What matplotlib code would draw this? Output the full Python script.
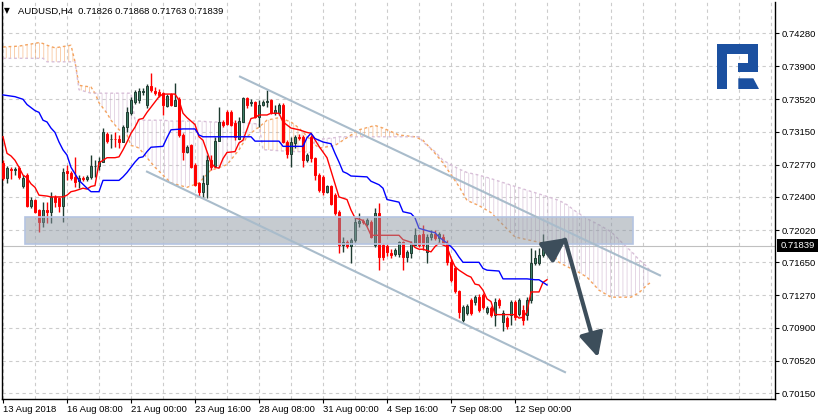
import numpy as np
import matplotlib
matplotlib.use("Agg")
import matplotlib.pyplot as plt
from matplotlib.patches import Rectangle, Polygon, FancyArrowPatch

# ---------------- data ----------------
title_text = "AUDUSD,H4  0.71826 0.71868 0.71763 0.71839"
last_price = 0.71839

opens = [.7279,.7262,.7272,.7271,.7273,.7253,.7265,.7230,.7237,.7225,.7211,.7225,.7223,.7240,.7239,.7230,.7270,.7267,.7263,.7258,
         .7262,.7260,.7263,.7275,.7275,.7280,.7312,.7306,.7307,.7306,.7303,.7320,.7336,.7349,.7351,.7360,.7346,.7367,.7361,.7360,
         .7359,.7344,.7358,.7344,.7352,.7311,.7292,.7300,.7277,.7256,.7246,.7255,.7282,.7275,.7304,.7326,.7337,.7337,.7325,.7307,
         .7326,.7353,.7348,.7349,.7332,.7346,.7349,.7351,.7336,.7336,.7345,.7303,.7289,.7302,.7309,.7309,.7282,.7309,.7285,.7265,
         .7263,.7246,.7252,.7242,.7223,.7185,.7188,.7184,.7191,.7210,.7212,.7209,.7211,.7185,.7221,.7185,.7184,.7176,.7174,.7174,
         .7188,.7171,.7176,.7185,.7196,.7198,.7177,.7194,.7197,.7193,.7194,.7187,.7165,.7158,.7132,.7099,.7107,.7122,.7119,.7125,
         .7127,.7108,.7113,.7105,.7122,.7097,.7101,.7105,.7120,.7106,.7110,.7104,.7122,.7164,.7164,.7173,.71826]
highs = [.7282,.7276,.7274,.7274,.7276,.7265,.7267,.7240,.7238,.7226,.7234,.7234,.7246,.7242,.7240,.7273,.7277,.7270,.7286,.7265,
         .7264,.7265,.7288,.7282,.7286,.7319,.7314,.7312,.7314,.7311,.7323,.7343,.7355,.7363,.7365,.7365,.7370,.7382,.7366,.7364,
         .7360,.7358,.7359,.7371,.7355,.7313,.7300,.7301,.7279,.7257,.7265,.7288,.7288,.7309,.7343,.7328,.7340,.7340,.7328,.7332,
         .7355,.7355,.7352,.7350,.7351,.7351,.7363,.7352,.7345,.7348,.7348,.7305,.7309,.7311,.7312,.7311,.7290,.7311,.7286,.7267,
         .7265,.7254,.7254,.7245,.7225,.7194,.7191,.7193,.7217,.7222,.7215,.7216,.7213,.7227,.7233,.7187,.7186,.7180,.7181,.7190,
         .7190,.7179,.7190,.7204,.7198,.7208,.7198,.7202,.7202,.7200,.7198,.7191,.7169,.7161,.7133,.7116,.7117,.7124,.7127,.7129,
         .7130,.7115,.7115,.7124,.7124,.7110,.7103,.7122,.7122,.7124,.7116,.7125,.7181,.7179,.7181,.7198,.71868]
lows = [.7259,.7256,.7261,.7265,.7261,.7250,.7228,.7227,.7222,.7200,.7205,.7210,.7210,.7228,.7223,.7211,.7259,.7259,.7251,.7250,
        .7258,.7258,.7260,.7263,.7271,.7280,.7302,.7296,.7297,.7296,.7303,.7314,.7334,.7347,.7348,.7357,.7342,.7360,.7357,.7355,
        .7334,.7343,.7344,.7344,.7309,.7282,.7290,.7273,.7252,.7240,.7240,.7239,.7271,.7274,.7304,.7320,.7323,.7321,.7305,.7307,
        .7326,.7342,.7344,.7331,.7320,.7344,.7343,.7335,.7334,.7334,.7302,.7285,.7274,.7296,.7305,.7274,.7280,.7280,.7259,.7246,
        .7242,.7245,.7231,.7219,.7176,.7177,.7181,.7164,.7188,.7205,.7209,.7207,.7193,.7182,.7156,.7168,.7172,.7170,.7172,.7171,
        .7156,.7165,.7170,.7185,.7183,.7179,.7164,.7191,.7191,.7188,.7185,.7162,.7142,.7130,.7101,.7097,.7105,.7105,.7116,.7108,
        .7111,.7106,.7102,.7092,.7113,.7086,.7089,.7093,.7099,.7103,.7093,.7099,.7118,.7162,.7162,.7171,.71763]
closes = [.7262,.7273,.7271,.7272,.7263,.7262,.7230,.7237,.7223,.7211,.7225,.7223,.7240,.7234,.7230,.7269,.7267,.7262,.7257,.7262,
          .7260,.7263,.7275,.7275,.7281,.7314,.7304,.7307,.7306,.7303,.7320,.7337,.7351,.7360,.7361,.7361,.7367,.7363,.7359,.7357,
          .7346,.7356,.7346,.7351,.7311,.7292,.7297,.7274,.7254,.7246,.7256,.7282,.7274,.7304,.7326,.7323,.7324,.7323,.7309,.7327,
          .7353,.7346,.7349,.7332,.7346,.7349,.7350,.7336,.7340,.7345,.7303,.7289,.7303,.7309,.7308,.7282,.7288,.7285,.7265,.7248,
          .7246,.7252,.7232,.7221,.7185,.7188,.7184,.7191,.7211,.7212,.7211,.7213,.7194,.7221,.7171,.7171,.7177,.7173,.7179,.7188,
          .7171,.7177,.7187,.7196,.7185,.7185,.7194,.7197,.7193,.7197,.7187,.7165,.7145,.7132,.7108,.7114,.7115,.7107,.7125,.7110,
          .7114,.7113,.7105,.7120,.7116,.7107,.7092,.7120,.7102,.7122,.7099,.7122,.7164,.7170,.7173,.7182,.71839]

tenkan_idx = [0,1,2,3,4,5,6,7,8,9,11,12,15,16,17,18,20,21,22,23,24,26,28,29,30,31,32,33,34,35,36,37,39,40,43,44,45,46,48,49,
              50,52,53,54,55,56,58,59,60,62,63,64,66,67,69,70,72,74,76,77,79,81,82,83,84,86,87,88,90,91,92,99,100,102,103,104,
              105,107,108,109,110,111,112,113,114,116,117,118,119,120,121,122,123,128,129,130,131,132,134,135,136]
tenkan_val = [.7309,.7290,.7287,.7282,.7274,.7265,.7262,.7255,.7251,.7242,.7241,.7240,.7240,.7242,.7246,.7247,.7250,.7249,.7252,.7253,
              .7279,.7285,.7285,.7286,.7294,.7303,.7313,.7320,.7329,.7330,.7337,.7343,.7355,.7358,.7358,.7351,.7336,.7331,.7323,.7309,
              .7305,.7279,.7274,.7273,.7284,.7291,.7292,.7302,.7305,.7330,.7331,.7334,.7334,.7336,.7336,.7326,.7319,.7317,.7314,.7313,
              .7298,.7285,.7270,.7255,.7240,.7237,.7225,.7216,.7213,.7206,.7196,.7196,.7191,.7188,.7182,.7180,
              .7180,.7177,.7183,.7187,.7185,.7183,.7170,.7160,.7156,.7150,.7148,.7140,.7139,.7133,.7123,.7120,.7105,.7105,.7101,.7102,
              .7108,.7131,.7131,.7142,.7145]

kijun_idx = [0,3,5,6,8,9,10,11,12,13,14,15,16,17,19,21,22,24,25,29,30,31,32,33,34,35,36,37,40,41,42,45,48,49,50,62,63,69,70,75,
             76,77,78,80,82,83,84,85,86,87,91,92,94,95,96,99,100,102,103,104,107,108,109,111,112,113,114,115,119,120,121,124,125,
             131,133,134,135,136]
kijun_val = [.7357,.7355,.7352,.7346,.7339,.7337,.7328,.7326,.7319,.7314,.7303,.7294,.7288,.7274,.7259,.7250,.7246,.7246,.7259,.7259,
             .7263,.7268,.7274,.7280,.7285,.7286,.7292,.7297,.7298,.7308,.7317,.7318,.7318,.7311,.7309,.7309,.7304,.7304,.7298,.7298,
             .7308,.7313,.7307,.7303,.7301,.7290,.7280,.7269,.7267,.7264,.7263,.7258,.7254,.7250,.7237,.7234,.7223,.7221,.7216,.7204,
             .7200,.7199,.7194,.7187,.7183,.7178,.7171,.7165,.7165,.7158,.7156,.7155,.7146,.7146,.7145,.7145,.7142,.7139]

cloud_idx = [0,4,9,10,11,13,17,18,19,22,23,24,26,27,29,31,32,33,34,36,38,40,42,46,49,52,53,56,59,61,63,64,65,66,69,72,74,77,78,79,
             83,84,85,89,93,95,99,103,104,105,108,110,114,116,119,122,128,135,139,141,143,146,149,152,156,157,159,161,162]
span_a = [.7412,.7413,.7417,.7416,.7414,.7411,.7414,.7395,.7368,.7366,.7359,.7348,.7336,.7328,.7317,.7311,.7299,.7298,.7296,.7285,
          .7274,.7265,.7256,.7251,.7256,.7271,.7272,.7277,.7294,.7309,.7317,.7320,.7324,.7328,.7331,.7326,.7319,.7305,.7300,.7296,
          .7299,.7302,.7305,.7317,.7322,.7319,.7311,.7309,.7307,.7305,.7290,.7279,.7252,.7236,.7230,.7222,.7194,.7187,.7165,.7160,
          .7156,.7148,.7133,.7125,.7125,.7125,.7130,.7139,.7142]
span_b = [.7399,.7399,.7399,.7399,.7395,.7395,.7395,.7395,.7363,.7359,.7359,.7359,.7359,.7359,.7359,.7359,.7359,.7328,.7328,.7328,
          .7328,.7328,.7327,.7327,.7327,.7326,.7326,.7325,.7325,.7325,.7324,.7324,.7294,.7294,.7293,.7292,.7292,.7291,.7305,.7306,
          .7308,.7309,.7309,.7309,.7309,.7309,.7309,.7309,.7309,.7303,.7292,.7282,.7272,.7268,.7265,.7261,.7252,.7242,.7236,.7231,
          .7224,.7215,.7208,.7200,.7182,.7178,.7168,.7160,.7154]

box_idx = [5.5, 157.6]
box_price = [0.71856, 0.72174]
chan_upper_idx = [59.25, 164.25]
chan_upper_val = [0.7378, 0.7150]
chan_lower_idx = [36.0, 140.5]
chan_lower_val = [0.7269, 0.7039]
arrow1_idx = [136.75, 141.0]
arrow1_val = [0.7179, 0.7193]
arrow2_idx = [140.5, 148.75]
arrow2_val = [0.7191, 0.7056]

price_ticks = [0.74280, 0.73900, 0.73520, 0.73150, 0.72770, 0.72400, 0.72020, 0.71650, 0.71270, 0.70900, 0.70520, 0.70150]
time_tick_idx = [0, 16, 32, 48, 64, 80, 96, 112, 128]
time_tick_labels = ["13 Aug 2018", "16 Aug 08:00", "21 Aug 00:00", "23 Aug 16:00", "28 Aug 08:00",
                    "31 Aug 00:00", "4 Sep 16:00", "7 Sep 08:00", "12 Sep 00:00"]

# ---------------- figure ----------------
FONT = ['Liberation Sans', 'DejaVu Sans']
plt.rcParams['font.family'] = FONT
plt.rcParams['hatch.linewidth'] = 0.6

W, H = 819, 419
fig = plt.figure(figsize=(W / 100, H / 100), dpi=100)
fig.patch.set_facecolor('white')
L, R, T, B = 2, 775, 2, 399
ax = fig.add_axes([L / W, (H - B) / H, (R - L) / W, (B - T) / H])
ax.set_xlim(-0.25, 193.0)
ax.set_ylim(0.70082, 0.74636)
ax.set_facecolor('white')

# grid
grid_col = '#cccccc'
for gx in np.arange(0, 193, 8):
    ax.axvline(gx, color=grid_col, lw=0.8, dashes=(3, 3), zorder=0)
for gy in price_ticks:
    ax.axhline(gy, color=grid_col, lw=0.8, dashes=(3, 3), zorder=0)

# cloud
ci = np.array(cloud_idx, float)
sa = np.array(span_a)
sb = np.array(span_b)
ax.fill_between(ci, sa, sb, where=sa >= sb, interpolate=True, facecolor='none',
                edgecolor=(0.96, 0.64, 0.38, 0.6), hatch='||||', lw=0, zorder=1)
ax.fill_between(ci, sa, sb, where=sa < sb, interpolate=True, facecolor='none',
                edgecolor=(0.78, 0.66, 0.78, 0.55), hatch='||||', lw=0, zorder=1)
ax.plot(ci, sa, color='#f4a460', lw=1.0, dashes=(2, 2), zorder=2)
ax.plot(ci, sb, color='#d8bfd8', lw=1.0, dashes=(2, 2), zorder=2)

# bid line
ax.axhline(last_price, color='#c0c0c0', lw=0.8, zorder=1)

# candles
o = np.array(opens); h = np.array(highs); l = np.array(lows); c = np.array(closes)
xi = np.arange(len(o))
bull = c >= o
bull_face, bull_edge = '#3f7f66', '#1e3b30'
bear_col = '#ff0000'
ax.vlines(xi[bull], l[bull], h[bull], color=bull_edge, lw=1.0, zorder=3)
ax.vlines(xi[~bull], l[~bull], h[~bull], color=bear_col, lw=1.0, zorder=3)
body_lo = np.minimum(o, c)
body_h = np.maximum(np.abs(c - o), 0.00002)
ax.bar(xi[bull], body_h[bull], bottom=body_lo[bull], width=0.72, color=bull_face,
       edgecolor=bull_edge, lw=0.7, zorder=4)
ax.bar(xi[~bull], body_h[~bull], bottom=body_lo[~bull], width=0.72, color=bear_col,
       edgecolor=bear_col, lw=0.7, zorder=4)

# ichimoku lines
ax.plot(tenkan_idx, tenkan_val, color='#ff0000', lw=1.0, zorder=5)
ax.plot(kijun_idx, kijun_val, color='#0000ff', lw=1.0, zorder=5)

# box
ax.add_patch(Rectangle((box_idx[0], box_price[0]), box_idx[1] - box_idx[0], box_price[1] - box_price[0],
                       facecolor='#8e98a3', alpha=0.5, edgecolor='none', zorder=6))
ax.add_patch(Rectangle((box_idx[0], box_price[0]), box_idx[1] - box_idx[0], box_price[1] - box_price[0],
                       facecolor='none', edgecolor='#b4c4e2', lw=1.2, zorder=6))

# channel
ax.plot(chan_upper_idx, chan_upper_val, color='#a9bccb', lw=1.5, zorder=6)
ax.plot(chan_lower_idx, chan_lower_val, color='#a9bccb', lw=1.5, zorder=6)

# arrows
for ai, av in ((arrow1_idx, arrow1_val), (arrow2_idx, arrow2_val)):
    ax.add_patch(FancyArrowPatch((ai[0], av[0]), (ai[1], av[1]), arrowstyle='-|>,head_length=1.2,head_width=0.6',
                                 mutation_scale=12, color='#3d4e5b', lw=3, zorder=7, shrinkA=0, shrinkB=0))

# axes styling
ax.spines['top'].set_visible(False)
for s in ['left', 'bottom', 'right']:
    ax.spines[s].set_color('black')
    ax.spines[s].set_linewidth(1.0)
ax.yaxis.tick_right()
ax.set_yticks(price_ticks)
ax.set_yticklabels([f"{p:.5f}" for p in price_ticks])
ax.tick_params(axis='y', direction='out', length=3, width=0.8, pad=2, labelsize=6.8, colors='black')
ax.set_xticks(time_tick_idx)
ax.set_xticklabels(time_tick_labels)
ax.tick_params(axis='x', direction='out', length=3, width=0.8, pad=1, labelsize=6.8)
for lbl in ax.get_xticklabels():
    lbl.set_ha('left')

# overlay in pixel coordinates for decorations
ov = fig.add_axes([0, 0, 1, 1], zorder=10)
ov.set_xlim(0, W); ov.set_ylim(H, 0); ov.axis('off')
ov.patch.set_alpha(0)
ov.text(4, 11, "\u25bc", fontsize=5.5, family='DejaVu Sans', va='center', ha='left')
ov.text(18, 11, title_text, fontsize=6.8, va='center', ha='left')
# current price label
yb = (B - T) * (0.74636 - last_price) / (0.74636 - 0.70082) + T
ov.add_patch(Rectangle((777, yb - 6.5), 41, 13, facecolor='black', edgecolor='none'))
ov.text(781, yb, f"{last_price:.5f}", fontsize=6.8, color='white', va='center', ha='left')
# logo
logo_col = '#1b50a0'
ov.add_patch(Polygon([(716.7, 44), (758.3, 44), (758.3, 71.7), (738.3, 71.7), (738.3, 63.3), (748.3, 63.3),
                      (748.3, 54), (727.3, 54), (727.3, 89), (716.7, 89)], closed=True, facecolor=logo_col, edgecolor='none'))
ov.add_patch(Polygon([(738.3, 78.3), (753.3, 78.3), (759, 89), (738.3, 89)], closed=True,
                     facecolor=logo_col, edgecolor='none'))

fig.savefig('out.png', dpi=100, facecolor='white')
